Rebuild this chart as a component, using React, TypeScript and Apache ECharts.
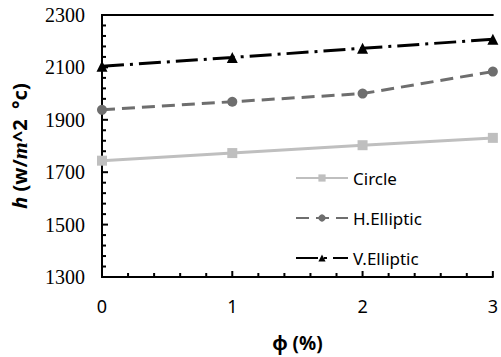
import React, { useEffect, useRef } from "react";
import * as echarts from "echarts";

const xValues = [0, 1, 2, 3];
const circle = [1744, 1773, 1803, 1831];
const hElliptic = [1938, 1969, 2000, 2084];
const vElliptic = [2104, 2138, 2173, 2207];
const seriesNames = ["Circle", "H.Elliptic", "V.Elliptic"];

// axis tick settings
const xRange = [0, 3];
const yRange = [1300, 2300];
const xMajor = 1;
const yMajor = 200;
const minorSplits = 5;

const tickValues = (min: number, max: number, major: number) => {
  const out: number[][] = [];
  const step = major / minorSplits;
  const n = Math.round((max - min) / step);
  for (let i = 0; i <= n; i++) {
    const v = min + i * step;
    out.push([v, i % minorSplits === 0 ? 1 : 0]);
  }
  return out;
};

const pairs = (ys: number[]) => xValues.map((x, i) => [x, ys[i]]);

export default function App() {
  const ref = useRef<HTMLDivElement>(null);
  useEffect(() => {
    document.body.style.margin = "0";
    const chart = echarts.init(ref.current!, null, { renderer: "svg" });
    const blackLine = { show: true, lineStyle: { color: "#000", width: 2 } };
    const borderAxis = () => ({
      type: "value",
      axisLine: { show: true, lineStyle: { color: "#000", width: 2 } },
      axisTick: { show: false },
      axisLabel: { show: false },
      splitLine: { show: false },
    });
    const yTickData = tickValues(yRange[0], yRange[1], yMajor).map(([v, m]) => [xRange[0], v, m, 0]);
    const xTickData = tickValues(xRange[0], xRange[1], xMajor).map(([v, m]) => [v, yRange[0], m, 1]);
    chart.setOption({
      animation: false,
      backgroundColor: "#ffffff",
      grid: {
        left: 97,
        right: 4,
        top: 15,
        bottom: 72,
      },
      legend: {
        orient: "vertical",
        left: 290,
        top: 163,
        itemWidth: 52,
        itemHeight: 9,
        itemGap: 20,
        data: seriesNames,
        textStyle: {
          fontFamily: "Noto Sans",
          fontSize: 17,
          color: "#000",
          lineHeight: 20,
        },
      },
      xAxis: [
        {
          type: "value",
          position: "bottom",
          min: xRange[0],
          max: xRange[1],
          interval: xMajor,
          name: "ϕ (%)",
          nameLocation: "middle",
          nameGap: 56,
          nameTextStyle: {
            fontFamily: "Noto Sans",
            fontSize: 19,
            fontWeight: "bold",
            color: "#000",
          },
          axisLine: blackLine,
          axisTick: { show: false },
          splitLine: { show: false },
          axisLabel: {
            margin: 20,
            fontFamily: "Noto Sans",
            fontSize: 18,
            color: "#000",
          },
        },
        { ...borderAxis(), position: "top", min: xRange[0], max: xRange[1] },
      ],
      yAxis: [
        {
          type: "value",
          position: "left",
          min: yRange[0],
          max: yRange[1],
          interval: yMajor,
          name: "{i|h} (w/{m|m}^2  °c)",
          nameLocation: "middle",
          nameGap: 72,
          nameRotate: 90,
          nameTextStyle: {
            fontFamily: "Noto Sans",
            fontSize: 20,
            fontWeight: "bold",
            color: "#000",
            rich: {
              i: {
                fontFamily: "Noto Sans",
                fontSize: 20,
                fontWeight: "bold",
                fontStyle: "italic",
                color: "#000",
              },
              m: {
                fontFamily: "Liberation Serif",
                fontSize: 22,
                fontWeight: "bold",
                fontStyle: "italic",
                color: "#000",
              },
            },
          },
          axisLine: blackLine,
          axisTick: { show: false },
          splitLine: { show: false },
          axisLabel: {
            margin: 17,
            fontFamily: "Liberation Serif",
            fontSize: 20,
            color: "#000",
            formatter: (v: number) => String(v),
          },
        },
        { ...borderAxis(), position: "right", min: yRange[0], max: yRange[1] },
      ],
      series: [
        {
          name: seriesNames[0],
          type: "line",
          data: pairs(circle),
          symbol: "rect",
          symbolSize: 10,
          color: "#bfbfbf",
          lineStyle: { color: "#bfbfbf", width: 3, type: "solid" },
          itemStyle: { color: "#bfbfbf" },
        },
        {
          name: seriesNames[1],
          type: "line",
          data: pairs(hElliptic),
          symbol: "circle",
          symbolSize: 10,
          color: "#6e6e6e",
          lineStyle: { color: "#6e6e6e", width: 3, type: [13, 7] },
          itemStyle: { color: "#6e6e6e" },
        },
        {
          name: seriesNames[2],
          type: "line",
          data: pairs(vElliptic),
          symbol: "triangle",
          symbolSize: 11,
          color: "#000",
          lineStyle: { color: "#000", width: 3, type: [22, 6, 3, 6] },
          itemStyle: { color: "#000" },
        },
        {
          name: "axisTicks",
          type: "custom",
          silent: true,
          z: 1,
          data: [...yTickData, ...xTickData],
          renderItem: (_params: any, api: any) => {
            const p = api.coord([api.value(0), api.value(1)]);
            const len = api.value(2) ? 6 : 4;
            const horizontalAxis = api.value(3) === 1;
            return {
              type: "line",
              shape: horizontalAxis
                ? { x1: p[0], y1: p[1], x2: p[0], y2: p[1] - len }
                : { x1: p[0], y1: p[1], x2: p[0] + len, y2: p[1] },
              style: { stroke: "#000", lineWidth: 2 },
            };
          },
        },
      ],
    });
    return () => chart.dispose();
  }, []);
  return <div ref={ref} style={{ width: 501, height: 357 }} />;
}
